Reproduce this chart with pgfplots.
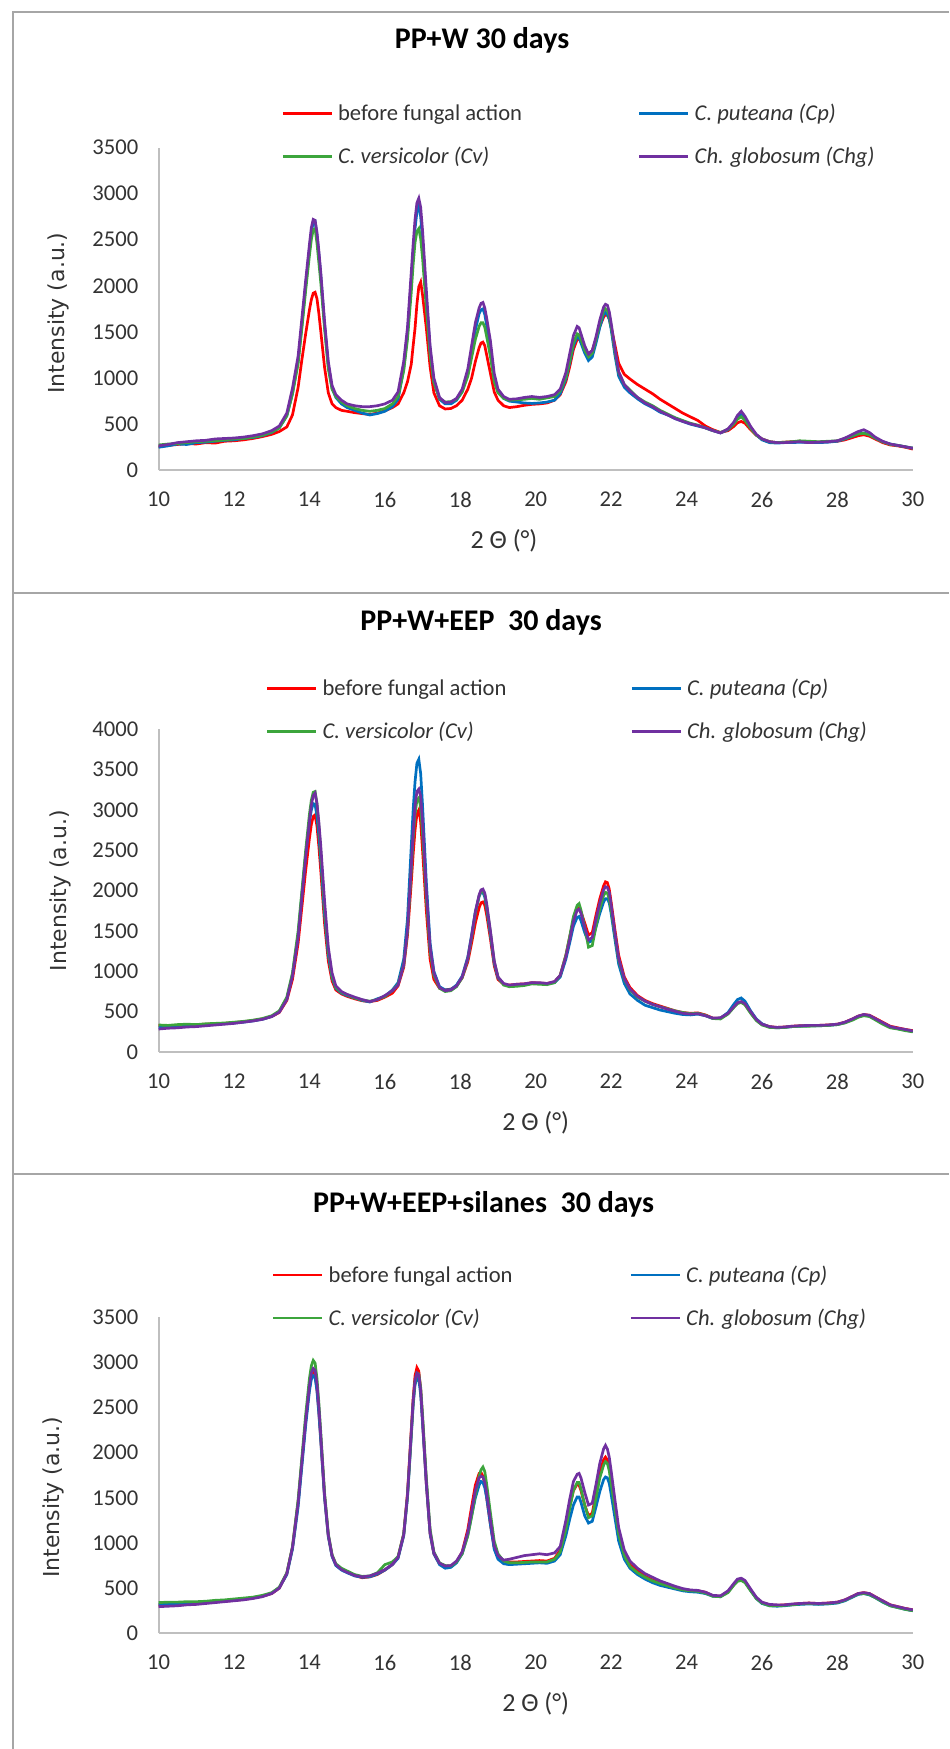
\documentclass[border=0pt]{standalone}
\usepackage{fontspec}
\setmainfont{Carlito}
\newfontfamily\dejavu{DejaVu Sans}
\usepackage{pgfplots}
\usepackage{pgfplotstable}
\pgfplotsset{compat=1.18}

\definecolor{cRed}{HTML}{FF0000}
\definecolor{cBlue}{HTML}{0070C0}
\definecolor{cGreen}{HTML}{3CA53C}
\definecolor{cPurple}{HTML}{7030A0}
\definecolor{frame}{HTML}{A6A6A6}
\definecolor{axisgray}{HTML}{BFBFBF}
\definecolor{txt}{HTML}{333333}

% PP+W 30 days
\pgfplotstableread{
x r b g p
10.0 255 250 275 265
10.25 270 265 285 280
10.5 280 285 290 300
10.75 290 280 300 310
11.0 285 300 310 320
11.25 300 305 315 325
11.5 295 315 320 340
11.75 315 325 330 345
12.0 320 330 340 350
12.25 330 345 345 360
12.5 345 355 360 375
12.75 365 375 380 395
13.0 390 410 415 430
13.2 420 460 460 480
13.4 470 590 590 620
13.55 600 830 830 890
13.7 900 1180 1160 1240
13.8 1200 1580 1540 1650
13.9 1480 2000 1950 2060
14.0 1740 2400 2330 2450
14.05 1850 2580 2500 2630
14.1 1920 2690 2610 2720
14.15 1930 2700 2620 2710
14.2 1860 2550 2460 2580
14.25 1700 2340 2250 2380
14.3 1510 2120 2040 2150
14.4 1120 1580 1540 1620
14.5 840 1140 1100 1180
14.6 720 890 880 920
14.7 680 790 800 820
14.85 650 720 740 760
15.0 640 680 700 720
15.2 625 650 670 700
15.4 615 620 650 690
15.6 605 600 640 690
15.8 620 615 650 700
16.0 645 640 670 720
16.2 680 690 720 760
16.35 720 770 800 850
16.5 840 1100 1080 1180
16.6 960 1480 1420 1550
16.7 1150 2050 1930 2150
16.75 1350 2350 2230 2450
16.8 1540 2620 2470 2720
16.85 1800 2800 2590 2900
16.9 1990 2870 2620 2950
16.95 2040 2750 2510 2850
17.0 1900 2480 2300 2600
17.1 1540 1870 1750 1950
17.2 1120 1300 1250 1350
17.3 840 960 950 1000
17.45 700 770 780 790
17.6 665 720 740 735
17.75 670 720 745 740
17.9 700 760 770 780
18.05 760 850 850 880
18.2 880 1050 1020 1100
18.3 1000 1290 1220 1350
18.4 1180 1520 1420 1600
18.5 1330 1700 1560 1760
18.55 1380 1740 1600 1810
18.6 1390 1750 1600 1820
18.65 1350 1690 1550 1760
18.7 1250 1570 1450 1650
18.8 1050 1320 1230 1400
18.9 850 1000 960 1050
19.0 760 850 840 880
19.15 700 780 780 800
19.3 680 750 760 770
19.5 690 740 765 775
19.7 705 730 770 790
19.9 715 725 780 800
20.1 720 730 770 790
20.3 730 740 785 800
20.5 760 760 800 820
20.65 820 830 860 880
20.8 960 990 1010 1060
20.9 1120 1160 1180 1260
21.0 1310 1350 1380 1460
21.1 1420 1450 1480 1560
21.15 1425 1440 1470 1545
21.2 1390 1380 1420 1480
21.3 1310 1270 1300 1350
21.4 1260 1190 1230 1260
21.5 1300 1230 1270 1300
21.6 1420 1380 1420 1450
21.7 1560 1550 1590 1630
21.8 1660 1690 1730 1770
21.85 1690 1710 1750 1800
21.9 1680 1690 1730 1790
21.95 1640 1640 1680 1720
22.0 1560 1530 1560 1600
22.1 1360 1250 1290 1320
22.2 1160 1020 1060 1070
22.35 1040 900 930 930
22.5 990 840 870 860
22.7 930 775 790 790
22.9 880 720 740 730
23.1 830 680 700 690
23.3 770 630 650 640
23.5 720 600 610 600
23.7 670 560 570 560
23.9 620 530 540 530
24.1 580 500 510 505
24.3 540 480 490 485
24.5 480 460 460 460
24.7 440 430 430 430
24.9 410 405 410 405
25.1 430 440 445 450
25.25 475 505 500 520
25.35 515 565 555 595
25.45 530 600 580 640
25.55 510 555 540 585
25.7 440 460 455 475
25.85 380 385 380 390
26.0 340 330 340 340
26.2 310 300 310 310
26.4 300 295 300 300
26.6 305 300 305 300
26.8 310 300 310 305
27.0 315 305 320 310
27.25 300 305 315 300
27.5 305 300 310 305
27.75 310 305 315 310
28.0 315 315 320 320
28.2 330 340 345 350
28.4 355 370 375 390
28.55 375 395 395 420
28.7 385 405 400 440
28.85 370 385 385 410
29.0 340 350 350 360
29.2 300 310 310 315
29.4 275 285 280 285
29.6 265 270 270 270
29.8 250 255 255 255
30.0 230 240 240 240
}\tabA

% PP+W+EEP 30 days
\pgfplotstableread{
x r b g p
10.0 330 305 335 285
10.25 325 315 330 295
10.5 330 320 340 300
10.75 335 325 345 310
11.0 340 330 340 315
11.25 345 335 350 325
11.5 350 345 355 335
11.75 355 350 360 345
12.0 365 360 370 355
12.25 375 370 380 370
12.5 390 385 395 385
12.75 410 405 415 405
13.0 440 440 450 440
13.2 490 500 510 495
13.4 640 660 680 650
13.55 900 960 980 940
13.7 1350 1450 1500 1420
13.8 1800 1950 2000 1920
13.9 2250 2450 2500 2420
14.0 2650 2850 2950 2870
14.05 2820 3000 3120 3060
14.1 2920 3080 3220 3180
14.15 2940 3070 3230 3210
14.2 2800 2920 3080 3080
14.25 2550 2680 2800 2850
14.3 2250 2380 2480 2560
14.4 1600 1700 1780 1880
14.5 1130 1200 1250 1300
14.6 880 920 940 980
14.7 770 790 800 820
14.85 720 730 740 750
15.0 690 700 710 715
15.2 660 670 670 680
15.4 635 640 645 650
15.6 625 620 630 625
15.8 640 660 650 650
16.0 680 690 690 700
16.2 730 770 760 760
16.35 820 860 840 830
16.5 1050 1150 1080 1080
16.6 1450 1650 1500 1520
16.7 2100 2550 2250 2300
16.75 2450 3000 2650 2720
16.8 2750 3350 2950 3050
16.85 2950 3580 3120 3230
16.9 3000 3630 3150 3260
16.95 2850 3450 3040 3170
17.0 2500 3050 2700 2850
17.1 1750 2100 1900 2000
17.2 1150 1350 1250 1300
17.3 900 1000 950 980
17.45 790 810 790 800
17.6 770 770 750 760
17.75 780 775 760 770
17.9 820 830 810 820
18.05 920 940 920 930
18.2 1120 1180 1150 1160
18.3 1350 1450 1420 1440
18.4 1600 1740 1720 1740
18.5 1790 1930 1940 1950
18.55 1850 1980 1990 2010
18.6 1860 1980 2000 2020
18.65 1820 1920 1950 1970
18.7 1700 1780 1810 1840
18.8 1400 1450 1480 1500
18.9 1070 1100 1120 1130
19.0 900 920 930 930
19.15 840 840 830 850
19.3 830 820 810 830
19.5 840 830 815 840
19.7 845 840 825 845
19.9 860 855 845 860
20.1 855 850 840 860
20.3 850 845 835 850
20.5 870 860 860 875
20.65 950 930 950 950
20.8 1200 1150 1200 1180
20.9 1420 1350 1430 1390
21.0 1640 1560 1680 1620
21.1 1780 1670 1820 1760
21.15 1790 1680 1840 1770
21.2 1740 1630 1760 1720
21.3 1600 1480 1550 1540
21.4 1450 1360 1300 1390
21.5 1480 1380 1320 1420
21.6 1700 1550 1560 1650
21.7 1900 1720 1780 1850
21.8 2060 1860 1940 2010
21.85 2110 1900 1980 2050
21.9 2100 1900 1970 2040
21.95 2020 1850 1900 1980
22.0 1860 1720 1760 1830
22.1 1520 1400 1450 1480
22.2 1200 1090 1140 1160
22.35 930 850 900 910
22.5 800 720 770 780
22.7 700 640 680 690
22.9 640 580 630 630
23.1 600 550 590 590
23.3 570 520 560 560
23.5 540 500 535 530
23.7 510 480 510 505
23.9 490 465 490 480
24.1 480 460 475 470
24.3 485 470 480 475
24.5 460 450 455 450
24.7 420 415 415 420
24.9 420 420 410 425
25.1 480 490 470 480
25.25 560 590 550 560
25.35 610 650 600 610
25.45 620 670 615 625
25.55 590 630 585 600
25.7 490 510 480 500
25.85 400 410 390 405
26.0 345 350 335 345
26.2 315 310 305 315
26.4 305 300 300 305
26.6 310 305 305 310
26.8 320 315 315 320
27.0 325 320 320 325
27.25 330 325 320 330
27.5 330 325 325 330
27.75 335 330 330 335
28.0 345 340 340 345
28.2 370 365 360 370
28.4 410 405 395 410
28.55 445 440 430 445
28.7 465 460 450 465
28.85 455 445 440 455
29.0 420 410 400 415
29.2 370 355 345 365
29.4 320 310 300 315
29.6 300 290 285 295
29.8 280 270 265 280
30.0 265 255 250 260
}\tabB

% PP+W+EEP+silanes 30 days
\pgfplotstableread{
x r b g p
10.0 310 320 340 295
10.25 320 325 345 300
10.5 325 330 345 305
10.75 330 335 350 315
11.0 335 340 350 320
11.25 340 345 355 330
11.5 350 355 365 340
11.75 355 360 370 350
12.0 365 370 380 360
12.25 375 380 390 370
12.5 390 395 400 385
12.75 410 410 420 405
13.0 440 445 450 440
13.2 500 505 510 500
13.4 660 650 670 660
13.55 950 930 960 950
13.7 1450 1400 1480 1440
13.8 1900 1850 1950 1900
13.9 2350 2300 2420 2350
14.0 2720 2680 2820 2740
14.05 2860 2810 2960 2880
14.1 2900 2850 3020 2930
14.15 2870 2830 2990 2910
14.2 2700 2680 2820 2760
14.25 2450 2430 2550 2500
14.3 2150 2130 2230 2190
14.4 1520 1500 1560 1530
14.5 1080 1070 1100 1090
14.6 860 850 870 860
14.7 760 750 770 760
14.85 710 700 720 705
15.0 680 670 690 675
15.2 640 635 650 640
15.4 615 620 630 625
15.6 625 625 635 635
15.8 650 655 670 665
16.0 700 700 760 705
16.2 760 760 790 765
16.35 840 830 850 840
16.5 1100 1080 1100 1090
16.6 1550 1500 1520 1530
16.7 2250 2180 2200 2220
16.75 2600 2520 2550 2570
16.8 2850 2750 2790 2800
16.85 2940 2830 2880 2880
16.9 2900 2810 2870 2860
16.95 2700 2640 2720 2690
17.0 2350 2320 2420 2360
17.1 1650 1650 1720 1670
17.2 1100 1100 1150 1120
17.3 880 880 900 890
17.45 770 760 780 775
17.6 740 720 750 745
17.75 745 730 745 750
17.9 790 780 790 800
18.05 900 880 880 900
18.2 1150 1090 1080 1120
18.3 1400 1300 1290 1350
18.4 1640 1500 1530 1580
18.5 1770 1640 1740 1720
18.55 1780 1680 1810 1740
18.6 1740 1670 1840 1730
18.65 1650 1610 1790 1670
18.7 1500 1500 1650 1550
18.8 1200 1200 1330 1250
18.9 950 930 1020 970
19.0 850 820 880 860
19.15 800 770 800 810
19.3 790 760 780 820
19.5 790 765 780 840
19.7 795 770 785 860
19.9 800 775 790 870
20.1 805 780 790 880
20.3 800 775 790 870
20.5 830 800 820 890
20.65 920 870 900 960
20.8 1180 1080 1150 1250
20.9 1400 1260 1380 1480
21.0 1580 1420 1580 1680
21.1 1650 1510 1670 1760
21.15 1640 1510 1670 1770
21.2 1580 1450 1600 1720
21.3 1420 1300 1420 1560
21.4 1300 1220 1280 1420
21.5 1330 1240 1300 1440
21.6 1550 1400 1500 1650
21.7 1780 1570 1720 1880
21.8 1920 1700 1860 2040
21.85 1950 1730 1900 2080
21.9 1920 1720 1880 2040
21.95 1840 1660 1800 1950
22.0 1700 1540 1660 1800
22.1 1400 1280 1380 1480
22.2 1120 1020 1100 1170
22.35 880 820 860 920
22.5 760 720 740 800
22.7 690 650 670 720
22.9 630 600 620 660
23.1 590 560 580 620
23.3 560 530 550 580
23.5 530 510 525 550
23.7 505 490 500 520
23.9 485 470 480 495
24.1 475 460 470 480
24.3 470 455 465 475
24.5 455 440 445 455
24.7 415 410 410 420
24.9 410 405 405 415
25.1 460 460 450 470
25.25 540 540 530 550
25.35 590 585 575 600
25.45 600 595 585 610
25.55 575 570 560 585
25.7 480 475 470 490
25.85 390 385 385 400
26.0 340 330 335 345
26.2 315 305 305 320
26.4 310 300 305 315
26.6 315 305 310 315
26.8 320 315 315 325
27.0 330 320 325 330
27.25 335 325 330 335
27.5 330 320 325 330
27.75 335 325 330 335
28.0 345 335 340 345
28.2 370 360 365 370
28.4 410 400 405 410
28.55 440 430 435 440
28.7 450 440 440 450
28.85 440 425 430 440
29.0 405 395 395 405
29.2 360 345 350 360
29.4 315 305 305 315
29.6 295 285 285 295
29.8 275 265 265 275
30.0 260 250 250 260
}\tabC

\pgfplotsset{
  xrd/.style={
    scale only axis, width=377.1pt,
    xmin=10, xmax=30, ymin=0,
    xtick={10,12,...,30},
    axis x line=bottom, axis y line=left,
    axis line style={draw=axisgray, line width=0.9pt, -},
    major tick length=0pt,
    tick label style={font=\fontsize{11.3}{13}\selectfont, text=txt},
    /pgf/number format/assume math mode=true,
    /pgf/number format/1000 sep={},
    yticklabel style={inner sep=0pt, anchor=east, xshift=-10pt},
    xticklabel style={inner sep=0pt, anchor=north, yshift=-10.8pt},
    xlabel={2 Θ (°)},
    xlabel style={font=\fontsize{13}{15}\selectfont, text=txt, anchor=base, yshift=-39.3pt},
    ylabel={{\dejavu\fontsize{11}{13}\selectfont Intensity (a.u.)}},
    ylabel style={text=txt, anchor=center},
    title style={font=\bfseries\fontsize{15}{18}\selectfont, text=black, anchor=base, yshift=0pt},
    legend columns=2,
    legend style={draw=none, fill=none, inner sep=0pt, outer sep=0pt,
      font=\fontsize{11.3}{13}\selectfont, text=txt,
      row sep=10.5pt, column sep=0pt,
      nodes={inner sep=0pt, text height=8.5pt, text depth=2.5pt, anchor=base west},
      /tikz/every odd column/.style={column sep=2.5pt},
      anchor=north west},
    legend image code/.code={\draw[##1, line width=1.3pt] (0pt,3.6pt) -- (24.5pt,3.6pt);},
    every axis plot/.append style={line width=1.35pt, no markers},
  }
}

\begin{document}
\begin{tikzpicture}
\path[use as bounding box] (0pt,0pt) rectangle (474.5pt,-874.5pt);

\begin{axis}[xrd, at={(79.3pt,-235.15pt)}, anchor=south west,
  height=161.4pt, ymax=3500, ytick={0,500,...,3500},
  title={PP+W 30 days},
  title style={at={(axis description cs:0.4288,1.269)}},
  xlabel style={at={(axis description cs:0.458,0)}},
  ylabel style={at={(axis description cs:-0.1334,0.487)}},
  legend style={at={(axis description cs:0.163,1.1348)}}]
\addplot[cRed] table[x=x,y=r]{\tabA};
\addlegendentry{\makebox[150pt][l]{before fungal action}}
\addplot[cBlue] table[x=x,y=b]{\tabA};
\addlegendentry{\textit{C. puteana (Cp)}}
\addplot[cGreen] table[x=x,y=g]{\tabA};
\addlegendentry{\makebox[150pt][l]{\textit{C. versicolor (Cv)}}}
\addplot[cPurple] table[x=x,y=p]{\tabA};
\addlegendentry{\textit{Ch. globosum (Chg)}}
\end{axis}

\begin{axis}[xrd, at={(79.3pt,-526pt)}, anchor=south west,
  height=161.3pt, ymax=4000, ytick={0,500,...,4000},
  title={PP+W+EEP\ \ 30 days},
  title style={at={(axis description cs:0.4275,1.2697)}},
  xlabel style={at={(axis description cs:0.5,0)}},
  ylabel style={at={(axis description cs:-0.1301,0.5)}},
  legend style={at={(axis description cs:0.1424,1.1581)}}]
\addplot[cRed] table[x=x,y=r]{\tabB};
\addlegendentry{\makebox[154pt][l]{before fungal action}}
\addplot[cBlue] table[x=x,y=b]{\tabB};
\addlegendentry{\textit{C. puteana (Cp)}}
\addplot[cGreen] table[x=x,y=g]{\tabB};
\addlegendentry{\makebox[154pt][l]{\textit{C. versicolor (Cv)}}}
\addplot[cPurple] table[x=x,y=p]{\tabB};
\addlegendentry{\textit{Ch. globosum (Chg)}}
\end{axis}

\begin{axis}[xrd, at={(79.3pt,-816.65pt)}, anchor=south west,
  height=158.15pt, ymax=3500, ytick={0,500,...,3500},
  title={PP+W+EEP+silanes\ \ 30 days},
  title style={at={(axis description cs:0.431,1.2934)}},
  xlabel style={at={(axis description cs:0.5,0)}},
  ylabel style={at={(axis description cs:-0.1396,0.43)}},
  legend style={at={(axis description cs:0.1504,1.1644)}}]
\addplot[cRed] table[x=x,y=r]{\tabC};
\addlegendentry{\makebox[150.5pt][l]{before fungal action}}
\addplot[cBlue] table[x=x,y=b]{\tabC};
\addlegendentry{\textit{C. puteana (Cp)}}
\addplot[cGreen] table[x=x,y=g]{\tabC};
\addlegendentry{\makebox[150.5pt][l]{\textit{C. versicolor (Cv)}}}
\addplot[cPurple] table[x=x,y=p]{\tabC};
\addlegendentry{\textit{Ch. globosum (Chg)}}
\end{axis}

\draw[frame, line width=1pt] (474.5pt,-5.85pt) -- (6.5pt,-5.85pt) -- (6.5pt,-874.5pt);
\draw[frame, line width=1pt] (6.5pt,-296.5pt) -- (474.5pt,-296.5pt);
\draw[frame, line width=1pt] (6.5pt,-587pt) -- (474.5pt,-587pt);
\end{tikzpicture}
\end{document}
